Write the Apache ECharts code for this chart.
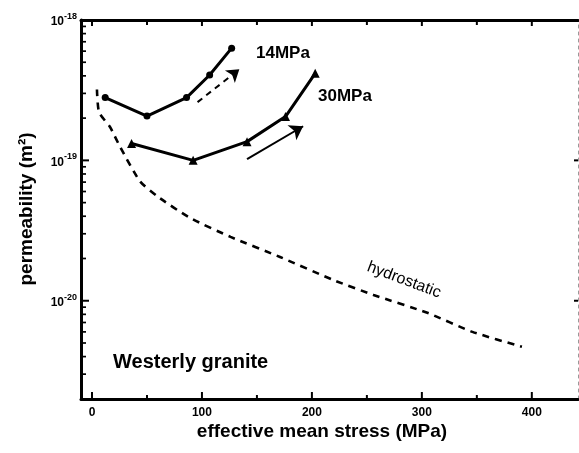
<!DOCTYPE html>
<html>
<head>
<meta charset="utf-8">
<script src="https://cdn.jsdelivr.net/npm/echarts@6/dist/echarts.min.js"></script>
<style>
html,body{margin:0;padding:0;background:#fff;}
#c{width:579px;height:453px;}
</style>
</head>
<body>
<div id="c"></div>
<script>
// ---- data (effective mean stress in MPa, permeability in m^2) ----
var stress14 = [12, 50, 86, 107, 127];
var perm14   = [2.8e-19, 2.07e-19, 2.8e-19, 4.06e-19, 6.3e-19];

var stress30 = [36, 92, 141, 176, 203];
var perm30   = [1.32e-19, 1.0e-19, 1.36e-19, 2.05e-19, 4.17e-19];

var stressHydro = [4.5, 6.4, 16.4, 25.5, 43.6, 60, 89, 126, 171, 219, 256, 305, 346, 391];
var permHydro   = [3.2e-19, 2.2e-19, 1.73e-19, 1.25e-19, 7.1e-20, 5.5e-20, 3.9e-20, 2.85e-20, 2.05e-20, 1.41e-20, 1.1e-20, 8.2e-21, 6.0e-21, 4.7e-21];

// loading-direction arrows [start, end] as [stress, permeability]
var arrow14 = [[96, 2.6e-19], [134, 4.45e-19]];
var arrow30 = [[141, 1.02e-19], [192, 1.75e-19]];

// axis ticks / labels
var xTickLabels = [0, 100, 200, 300, 400];
var xMinorTicks = [50, 150, 250, 350];
var yTickExponents = [-20, -19, -18];   // 10^-20, 10^-19, 10^-18
var yRightTicks = [-20, -19];

// ---- helpers ----
function lg(v){ return Math.log10(v); }
function pairs(xs, ys){ return xs.map(function(x,i){ return [x, lg(ys[i])]; }); }
var yMinor = [];
[-21, -20, -19].forEach(function(e){
  for (var k = 2; k <= 9; k++) { yMinor.push(e + Math.log10(k)); }
});

var XMIN = -10, XMAX = 442, YMIN = -20.70, YMAX = -18;
var FONT = '"Liberation Sans", Arial, sans-serif';

// tick marks: [x, y, side(0 left,1 bottom,2 top,3 right), length, width]
var tickMarks = [];
yTickExponents.forEach(function(v){ if (v > YMIN && v < YMAX) tickMarks.push([XMIN, v, 0, 8, 2]); });
yMinor.forEach(function(v){ if (v > YMIN && v < YMAX) tickMarks.push([XMIN, v, 0, 5, 1.7]); });
xTickLabels.forEach(function(v){ tickMarks.push([v, YMIN, 1, 7, 2]); tickMarks.push([v, YMAX, 2, 6, 2]); });
xMinorTicks.forEach(function(v){ tickMarks.push([v, YMIN, 1, 4, 2]); tickMarks.push([v, YMAX, 2, 5, 2]); });
yRightTicks.forEach(function(v){ tickMarks.push([XMAX, v, 3, 4, 2]); });

var chart = echarts.init(document.getElementById('c'));

var option = {
  animation:false,
  grid:{left:81, right:1, top:20, bottom:54},
  xAxis:[
    {type:'value', min:XMIN, max:XMAX, position:'bottom', splitLine:{show:false},
     axisLine:{show:true, onZero:false, lineStyle:{color:'#000', width:3}},
     axisTick:{show:false},
     axisLabel:{show:true, customValues:xTickLabels, margin:8, color:'#000', fontWeight:'bold', fontSize:12, fontFamily:FONT,
       formatter:function(v){ return String(v); }}},
    {type:'value', min:XMIN, max:XMAX, position:'top', splitLine:{show:false},
     axisLine:{show:true, onZero:false, lineStyle:{color:'#000', width:3}},
     axisTick:{show:false}, axisLabel:{show:false}}
  ],
  yAxis:[
    {type:'value', min:YMIN, max:YMAX, position:'left', splitLine:{show:false},
     axisLine:{show:true, onZero:false, lineStyle:{color:'#000', width:3}},
     axisTick:{show:false},
     axisLabel:{show:true, customValues:yTickExponents, margin:4, color:'#000',
       formatter:function(v){ return '{b|10}{s|' + v + '}'; },
       rich:{
         b:{fontSize:12, fontWeight:'bold', fontFamily:FONT, color:'#000', lineHeight:16, verticalAlign:'bottom'},
         s:{fontSize:9, fontWeight:'bold', fontFamily:FONT, color:'#000', lineHeight:16, verticalAlign:'top', padding:[0,0,5,0]}
       }}},
    {type:'value', min:YMIN, max:YMAX, position:'right', splitLine:{show:false},
     axisLine:{show:true, onZero:false, lineStyle:{color:'#999', width:1, type:[3,4]}},
     axisTick:{show:false}, axisLabel:{show:false}}
  ],
  series:[
    {
      name:'hydrostatic', type:'line', data:pairs(stressHydro, permHydro),
      showSymbol:false, symbol:'none', smooth:0.2,
      lineStyle:{color:'#000', width:2.6, type:[7,6]}, z:3
    },
    {
      name:'14MPa', type:'line', data:pairs(stress14, perm14),
      symbol:'circle', symbolSize:7, itemStyle:{color:'#000'},
      lineStyle:{color:'#000', width:3}, z:4,
      markLine:{
        silent:true, animation:false, symbol:['none','arrow'], symbolSize:12,
        label:{show:false}, lineStyle:{color:'#000', width:2, type:[6,5]},
        data:[[{coord:[arrow14[0][0], lg(arrow14[0][1])]}, {coord:[arrow14[1][0], lg(arrow14[1][1])]}]]
      }
    },
    {
      name:'30MPa', type:'line', data:pairs(stress30, perm30),
      symbol:'triangle', symbolSize:9, itemStyle:{color:'#000'},
      lineStyle:{color:'#000', width:3}, z:4,
      markLine:{
        silent:true, animation:false, symbol:['none','arrow'], symbolSize:13,
        label:{show:false}, lineStyle:{color:'#000', width:2, type:'solid'},
        data:[[{coord:[arrow30[0][0], lg(arrow30[0][1])]}, {coord:[arrow30[1][0], lg(arrow30[1][1])]}]]
      }
    },
    {
      name:'ticks', type:'custom', data:tickMarks, clip:false, silent:true, z:6,
      encode:{x:0, y:1},
      renderItem:function(params, api){
        var p = api.coord([api.value(0), api.value(1)]);
        var side = api.value(2), len = api.value(3), w = api.value(4);
        var dx = 0, dy = 0;
        if (side === 0) dx = len; else if (side === 1) dy = -len; else if (side === 2) dy = len; else dx = -len;
        return {type:'line', shape:{x1:p[0], y1:p[1], x2:p[0] + dx, y2:p[1] + dy},
                style:{stroke:'#000', lineWidth:w}};
      }
    }
  ],
  graphic:[
    {type:'text', x:256, y:53, style:{text:'14MPa', fill:'#000', font:'bold 17px ' + FONT, textAlign:'left', textVerticalAlign:'middle'}},
    {type:'text', x:318, y:96, style:{text:'30MPa', fill:'#000', font:'bold 17px ' + FONT, textAlign:'left', textVerticalAlign:'middle'}},
    {type:'text', x:404, y:280, rotation:-0.36, style:{text:'hydrostatic', fill:'#000', font:'16px ' + FONT, textAlign:'center', textVerticalAlign:'middle'}},
    {type:'text', x:113, y:362, style:{text:'Westerly granite', fill:'#000', font:'bold 20px ' + FONT, textAlign:'left', textVerticalAlign:'middle'}},
    {type:'text', x:322, y:432, style:{text:'effective mean stress (MPa)', fill:'#000', font:'bold 19px ' + FONT, textAlign:'center', textVerticalAlign:'middle'}},
    {type:'text', x:27, y:209, rotation:Math.PI/2, style:{text:'permeability (m²)', fill:'#000', font:'bold 19px ' + FONT, textAlign:'center', textVerticalAlign:'middle'}}
  ]
};
chart.setOption(option);
</script>
</body>
</html>
